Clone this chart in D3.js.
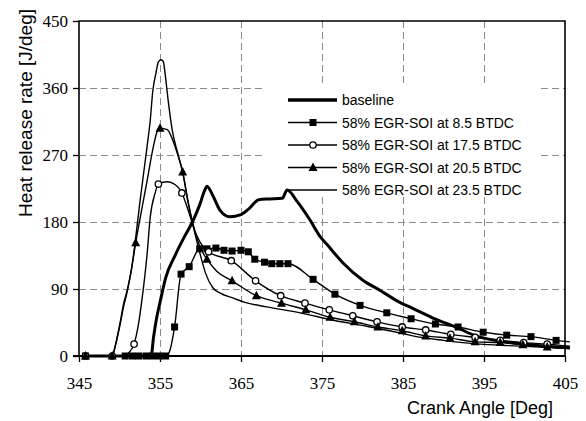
<!DOCTYPE html>
<html>
<head>
<meta charset="utf-8">
<script src="https://cdn.jsdelivr.net/npm/d3@7"></script>
<style>
body { margin: 0; background: #fff; }
svg { display: block; }
</style>
</head>
<body>
<script>
//heat release rate chart

//axis ticks
var xTicks = [345, 355, 365, 375, 385, 395, 405];
var yTicks = [0, 90, 180, 270, 360, 450];

//series names (legend order)
var seriesNames = ["baseline", "58% EGR-SOI at 8.5 BTDC", "58% EGR-SOI at 17.5 BTDC", "58% EGR-SOI at 20.5 BTDC", "58% EGR-SOI at 23.5 BTDC"];

//baseline [crank angle, rate] (no markers)
var baseline = [[345.8,0],[350,0],[353.9,0],[354.2,25],[354.6,52],[355,72],[355.7,105],[356.9,136],[358.1,162],[359,180],[359.9,203],[360.5,222],[360.8,228],[361.5,216],[362.4,196],[363.6,187],[365,190],[366,198],[367.2,210],[368.5,211],[370.1,212],[370.7,223],[371.9,208],[373.5,183],[374.8,160],[375.6,150],[377.6,125],[380,102],[382.2,88],[384.6,72],[386.2,64],[388.7,51],[391.7,38],[394,27],[397,20],[399.8,16],[402.8,13],[405.6,11]];

//8.5 BTDC - marker points and extra line points
var soi85 = [[345.8,0],[350.7,0],[351.6,0],[352.4,0],[353.3,0],[354.1,0],[354.9,0],[355.7,0],[356.8,39],[357.6,110],[358.6,120],[359.9,144],[360.8,144],[361.9,145],[362.9,142],[363.9,141],[365,142],[365.9,140],[366.7,130],[367.9,126],[368.8,124],[369.8,124],[370.8,124],[373.9,103],[376.6,83],[379.7,68],[383,58],[386,50],[389,43],[391.8,39],[394.9,32],[397.8,28],[400.8,26],[403.9,21]];
var soi85Extra = [[356.1,4],[405.6,19]];

//17.5 BTDC
var soi175 = [[345.8,0],[349.1,0],[351.8,16],[354.8,231],[357.7,219],[361,140],[363.8,128],[366.8,101],[369.9,81],[372.9,71],[375.9,62],[378.8,54],[381.8,46],[384.9,39],[387.8,35],[390.9,29],[393.9,25],[397,21],[399.9,18],[402.8,16]];
var soi175Extra = [[350.6,0],[351.2,5],[352.3,40],[352.8,78],[353.4,136],[353.8,187],[354.4,219],[355.9,234],[356.9,230],[358.5,195],[359.3,168],[360,152],[405.6,13]];

//20.5 BTDC
var soi205 = [[345.8,0],[349.1,0],[352,152],[355,306],[357.8,247],[360.8,130],[363.9,101],[366.9,81],[370,71],[373,62],[376,52],[379,46],[381.9,39],[384.9,34],[387.8,27],[390.8,24],[393.9,19],[397,18],[399.8,15],[402.8,12]];
var soi205Extra = [[349.5,14],[350.1,44],[350.5,66],[350.9,84],[351.5,118],[352.8,200],[353.4,235],[354.1,277],[354.6,300],[355.9,304],[356.5,292],[357.2,270],[358.5,205],[359.3,168],[360,145],[362,114],[405.6,10]];

//23.5 BTDC (no markers)
var soi235 = [[345.8,0],[349.1,0],[349.5,15],[350.1,46],[350.5,70],[350.9,86],[351.5,118],[351.9,150],[352.5,205],[353.4,281],[353.8,317],[354.1,355],[354.5,380],[354.8,395],[355.1,398],[355.4,396],[355.6,382],[356,344],[356.5,304],[357.2,272],[357.8,247],[358.5,205],[359.3,165],[360,135],[360.6,112],[361.5,92],[362.5,84],[364,78],[365.5,72],[368.2,66],[372.3,58],[376.4,48],[380.5,40],[384.6,31],[386.2,27],[390,21],[394.5,16],[398,14],[402,12],[405.6,10]];

window.onload = drawChart();

function drawChart(){
    var width = 586,
        height = 421;

    var svg = d3.select("body")
        .append("svg")
        .attr("width", width)
        .attr("height", height);

    //scales
    var x = d3.scaleLinear().domain([345, 405]).range([79, 565]);
    var y = d3.scaleLinear().domain([0, 450]).range([356, 21]);

    //dashed grid
    var grid = svg.append("g").attr("stroke", "#8a8a8a").attr("stroke-width", 1).attr("stroke-dasharray", "7,4");
    grid.selectAll(".hg")
        .data(yTicks.slice(1, -1))
        .enter()
        .append("line")
        .attr("x1", x(345)).attr("x2", x(405))
        .attr("y1", function(d){ return y(d) + 0.5; })
        .attr("y2", function(d){ return y(d) + 0.5; });
    grid.selectAll(".vg")
        .data(xTicks.slice(1, -1))
        .enter()
        .append("line")
        .attr("y1", y(450)).attr("y2", y(0))
        .attr("x1", function(d){ return x(d) + 0.5; })
        .attr("x2", function(d){ return x(d) + 0.5; });

    //legend background hides grid behind it
    svg.append("rect")
        .attr("x", 265).attr("y", 87)
        .attr("width", 274).attr("height", 110)
        .attr("fill", "#fff");

    //axes
    var xAxis = d3.axisBottom(x).tickValues(xTicks).tickSize(6).tickFormat(d3.format("d"));
    var gx = svg.append("g").attr("transform", "translate(0," + y(0) + ")").call(xAxis);
    var yAxis = d3.axisLeft(y).tickValues(yTicks).tickSize(6).tickFormat(d3.format("d"));
    var gy = svg.append("g").attr("transform", "translate(" + x(345) + ",0)").call(yAxis);

    [gx, gy].forEach(function(g){
        g.attr("font-family", null).attr("font-size", null);
        g.select(".domain").remove();
        g.selectAll(".tick line").attr("stroke", "#000").attr("stroke-width", 1.3);
        g.selectAll(".tick text")
            .attr("fill", "#000")
            .style("font-family", "'Times New Roman', 'Liberation Serif', 'DejaVu Serif', serif")
            .style("font-size", "17px");
    });
    gx.selectAll(".tick text").attr("y", 21).attr("dy", "0.71em");
    gy.selectAll(".tick text").attr("x", -11).attr("dy", "0.34em");

    //frame
    svg.append("path")
        .attr("d", "M" + x(345) + "," + y(0) + "V" + y(450) + "H" + x(405) + "V" + y(0))
        .attr("fill", "none").attr("stroke", "#000").attr("stroke-width", 1.6);
    svg.append("line")
        .attr("x1", x(345) - 6).attr("x2", x(405))
        .attr("y1", y(0)).attr("y2", y(0))
        .attr("stroke", "#000").attr("stroke-width", 2.2);

    //axis titles
    svg.append("text")
        .attr("x", 407).attr("y", 414)
        .style("font-family", "'Liberation Sans', Arial, sans-serif")
        .style("font-size", "18px")
        .text("Crank Angle [Deg]");
    svg.append("text")
        .attr("transform", "translate(32,113) rotate(-90)")
        .attr("text-anchor", "middle")
        .style("font-family", "'Liberation Sans', Arial, sans-serif")
        .style("font-size", "19px")
        .text("Heat release rate  [J/deg]");

    //curves
    var line = d3.line()
        .x(function(d){ return x(d[0]); })
        .y(function(d){ return y(d[1]); })
        .curve(d3.curveMonotoneX);

    var lines = [
        {pts: baseline, w: 3},
        {pts: merge(soi85, soi85Extra), w: 1.4},
        {pts: merge(soi175, soi175Extra), w: 1.4},
        {pts: merge(soi205, soi205Extra), w: 1.4},
        {pts: soi235, w: 1.4}
    ];
    svg.selectAll(".curve")
        .data(lines)
        .enter()
        .append("path")
        .attr("class", "curve")
        .attr("d", function(d){ return line(d.pts); })
        .attr("fill", "none")
        .attr("stroke", "#000")
        .attr("stroke-width", function(d){ return d.w; })
        .attr("stroke-linejoin", "round");

    //markers
    drawMarkers(svg, soi85, "square", x, y);
    drawMarkers(svg, soi175, "circle", x, y);
    drawMarkers(svg, soi205, "triangle", x, y);

    //legend
    var kinds = [null, "square", "circle", "triangle", null];
    var leg = svg.append("g");
    seriesNames.forEach(function(name, i){
        var ly = 100 + i * 22.5;
        leg.append("line")
            .attr("x1", 288).attr("x2", 337)
            .attr("y1", ly).attr("y2", ly)
            .attr("stroke", "#000")
            .attr("stroke-width", i == 0 ? 3.4 : 1.4);
        if (kinds[i]){
            addMarker(leg, kinds[i], 313, ly);
        };
        leg.append("text")
            .attr("x", 342).attr("y", ly + 5)
            .style("font-family", "'Liberation Sans', Arial, sans-serif")
            .style("font-size", "14px")
            .text(name);
    });
};

//line points = marker points + extra points, sorted by angle
function merge(a, b){
    return a.concat(b).sort(function(p, q){ return p[0] - q[0]; });
};

function drawMarkers(svg, pts, kind, x, y){
    var g = svg.append("g");
    pts.forEach(function(p){
        addMarker(g, kind, x(p[0]), y(p[1]));
    });
};

function addMarker(g, kind, cx, cy){
    if (kind == "square"){
        g.append("rect")
            .attr("x", cx - 3.5).attr("y", cy - 3.5)
            .attr("width", 7).attr("height", 7)
            .attr("fill", "#000");
    } else if (kind == "circle"){
        g.append("circle")
            .attr("cx", cx).attr("cy", cy).attr("r", 3.2)
            .attr("fill", "#fff").attr("stroke", "#000").attr("stroke-width", 1.3);
    } else {
        g.append("path")
            .attr("d", "M" + cx + "," + (cy - 5) + "L" + (cx + 4.5) + "," + (cy + 3.5) + "L" + (cx - 4.5) + "," + (cy + 3.5) + "Z")
            .attr("fill", "#000");
    };
};
</script>
</body>
</html>
